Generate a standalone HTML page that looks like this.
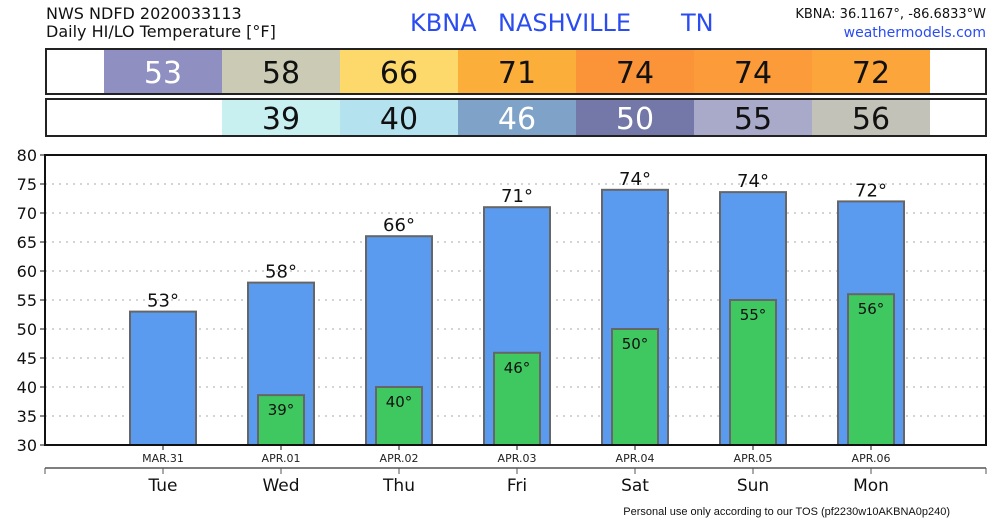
<!DOCTYPE html>
<html><head><meta charset="utf-8"><style>
body{margin:0;background:#fff;width:1000px;height:520px;overflow:hidden;font-family:"DejaVu Sans","Liberation Sans",sans-serif}
</style></head><body>
<svg id="c" width="1000" height="520" xmlns="http://www.w3.org/2000/svg" font-family="DejaVu Sans, Liberation Sans, sans-serif">
<text x="46" y="19" font-size="16" fill="#111">NWS NDFD 2020033113</text>
<text x="46" y="37" font-size="16" fill="#111">Daily HI/LO Temperature [°F]</text>
<text x="410" y="31" font-size="24" fill="#2a4cf0">KBNA</text>
<text x="498" y="31" font-size="24" fill="#2a4cf0">NASHVILLE</text>
<text x="681" y="31" font-size="24" fill="#2a4cf0">TN</text>
<text x="986" y="18" font-size="13" fill="#111" text-anchor="end">KBNA: 36.1167°, -86.6833°W</text>
<text x="986" y="37" font-size="14" fill="#2a4cf0" text-anchor="end">weathermodels.com</text>
<g id="hiRow"></g>
<g id="loRow"></g>
<g id="plot"></g>
<text x="950" y="515" font-size="11" fill="#111" text-anchor="end" font-family="Liberation Sans, sans-serif">Personal use only according to our TOS (pf2230w10AKBNA0p240)</text>
</svg>
<script>
const days = ["Tue","Wed","Thu","Fri","Sat","Sun","Mon"];
const dates = ["MAR.31","APR.01","APR.02","APR.03","APR.04","APR.05","APR.06"];
const hiVals = [53,58,66,71,74,73.6,72];
const loVals = [null,38.6,40,45.9,50,55,56];
const yTicks = [30,35,40,45,50,55,60,65,70,75,80];
const hiColors = ["#8f8fc2","#cbcbb5","#fdd86a","#fcae3a","#fb9339","#fc9b3a","#fca53a"];
const loColors = [null,"#c8f0f0","#b4e2ee","#7ea2c8","#7478a8","#a9a9ca","#c2c2b8"];
const hiText = ["#fff","#111","#111","#111","#111","#111","#111"];
const loText = [null,"#111","#111","#fff","#fff","#111","#111"];
const NS="http://www.w3.org/2000/svg";
const X0=45,X1=986,Y0=445,Y1=155,STEP=118,FIRST=163;
const xc=i=>FIRST+i*STEP;
const yv=v=>Y0-(v-30)/(80-30)*(Y0-Y1);
function mk(p,t,a){const e=document.createElementNS(NS,t);for(const k in a)e.setAttribute(k,a[k]);p.appendChild(e);return e;}
const hiRow=document.getElementById('hiRow'),loRow=document.getElementById('loRow'),plot=document.getElementById('plot');
let r=mk(hiRow,'rect',{x:46,y:49,width:940,height:45,fill:'#fff',stroke:'#222','stroke-width':2});

r=mk(loRow,'rect',{x:46,y:99,width:940,height:37,fill:'#fff',stroke:'#222','stroke-width':2});

hiVals.forEach((v,i)=>{
  let c=mk(hiRow,'rect',{x:xc(i)-59,y:50,width:118,height:43,fill:hiColors[i]});
  
  
  let t=mk(hiRow,'text',{x:xc(i),y:83,'font-size':30,'text-anchor':'middle',fill:hiText[i]});t.textContent=Math.round(v);
  
  
});
loVals.forEach((v,i)=>{
  if(v===null)return;
  let c=mk(loRow,'rect',{x:xc(i)-59,y:100,width:118,height:35,fill:loColors[i]});
  
  
  let t=mk(loRow,'text',{x:xc(i),y:129,'font-size':30,'text-anchor':'middle',fill:loText[i]});t.textContent=Math.round(v);
  
  
});
yTicks.forEach(v=>{
  if(v>30&&v<80){let g=mk(plot,'line',{x1:X0,x2:X1,y1:yv(v),y2:yv(v),stroke:'#aaa','stroke-dasharray':'2,5'});
  
  }
  let tk=mk(plot,'line',{x1:X0-5,x2:X0,y1:yv(v),y2:yv(v),stroke:'#111'});
  
  
  let t=mk(plot,'text',{x:X0-8,y:yv(v)+6,'font-size':16,'text-anchor':'end',fill:'#111'});t.textContent=v;
  
  
});
hiVals.forEach((v,i)=>{
  let b=mk(plot,'rect',{x:xc(i)-33,y:yv(v),width:66,height:Y0-yv(v),fill:'#5a9bf0',stroke:'#666','stroke-width':2});
  
  
  let t=mk(plot,'text',{x:xc(i),y:yv(v)-5,'font-size':18,'text-anchor':'middle',fill:'#111'});t.textContent=Math.round(v)+'°';
  
  
});
loVals.forEach((v,i)=>{
  if(v===null)return;
  let b=mk(plot,'rect',{x:xc(i)-23,y:yv(v),width:46,height:Y0-yv(v),fill:'#3fc760',stroke:'#666','stroke-width':2});
  
  
  let t=mk(plot,'text',{x:xc(i),y:yv(v)+20,'font-size':15,'text-anchor':'middle',fill:'#111'});t.textContent=Math.round(v)+'°';
  
  
});
let f=mk(plot,'rect',{x:X0,y:Y1,width:X1-X0,height:Y0-Y1,fill:'none',stroke:'#111','stroke-width':2});

let dl=mk(plot,'line',{x1:X0,x2:X1,y1:468,y2:468,stroke:'#555','stroke-width':1.5});

[X0,X1].forEach(x=>{let e=mk(plot,'line',{x1:x,x2:x,y1:468,y2:474,stroke:'#555'});

});
days.forEach((d,i)=>{
  let tk=mk(plot,'line',{x1:xc(i),x2:xc(i),y1:Y0,y2:Y0+5,stroke:'#111'});
  
  
  let t2=mk(plot,'line',{x1:xc(i),x2:xc(i),y1:468,y2:474,stroke:'#555'});
  
  
  let t=mk(plot,'text',{x:xc(i),y:462,'font-size':11,'text-anchor':'middle',fill:'#222'});t.textContent=dates[i];
  
  
  let t3=mk(plot,'text',{x:xc(i),y:491,'font-size':17,'text-anchor':'middle',fill:'#111'});t3.textContent=d;
  
  
});
</script>
</body></html>
